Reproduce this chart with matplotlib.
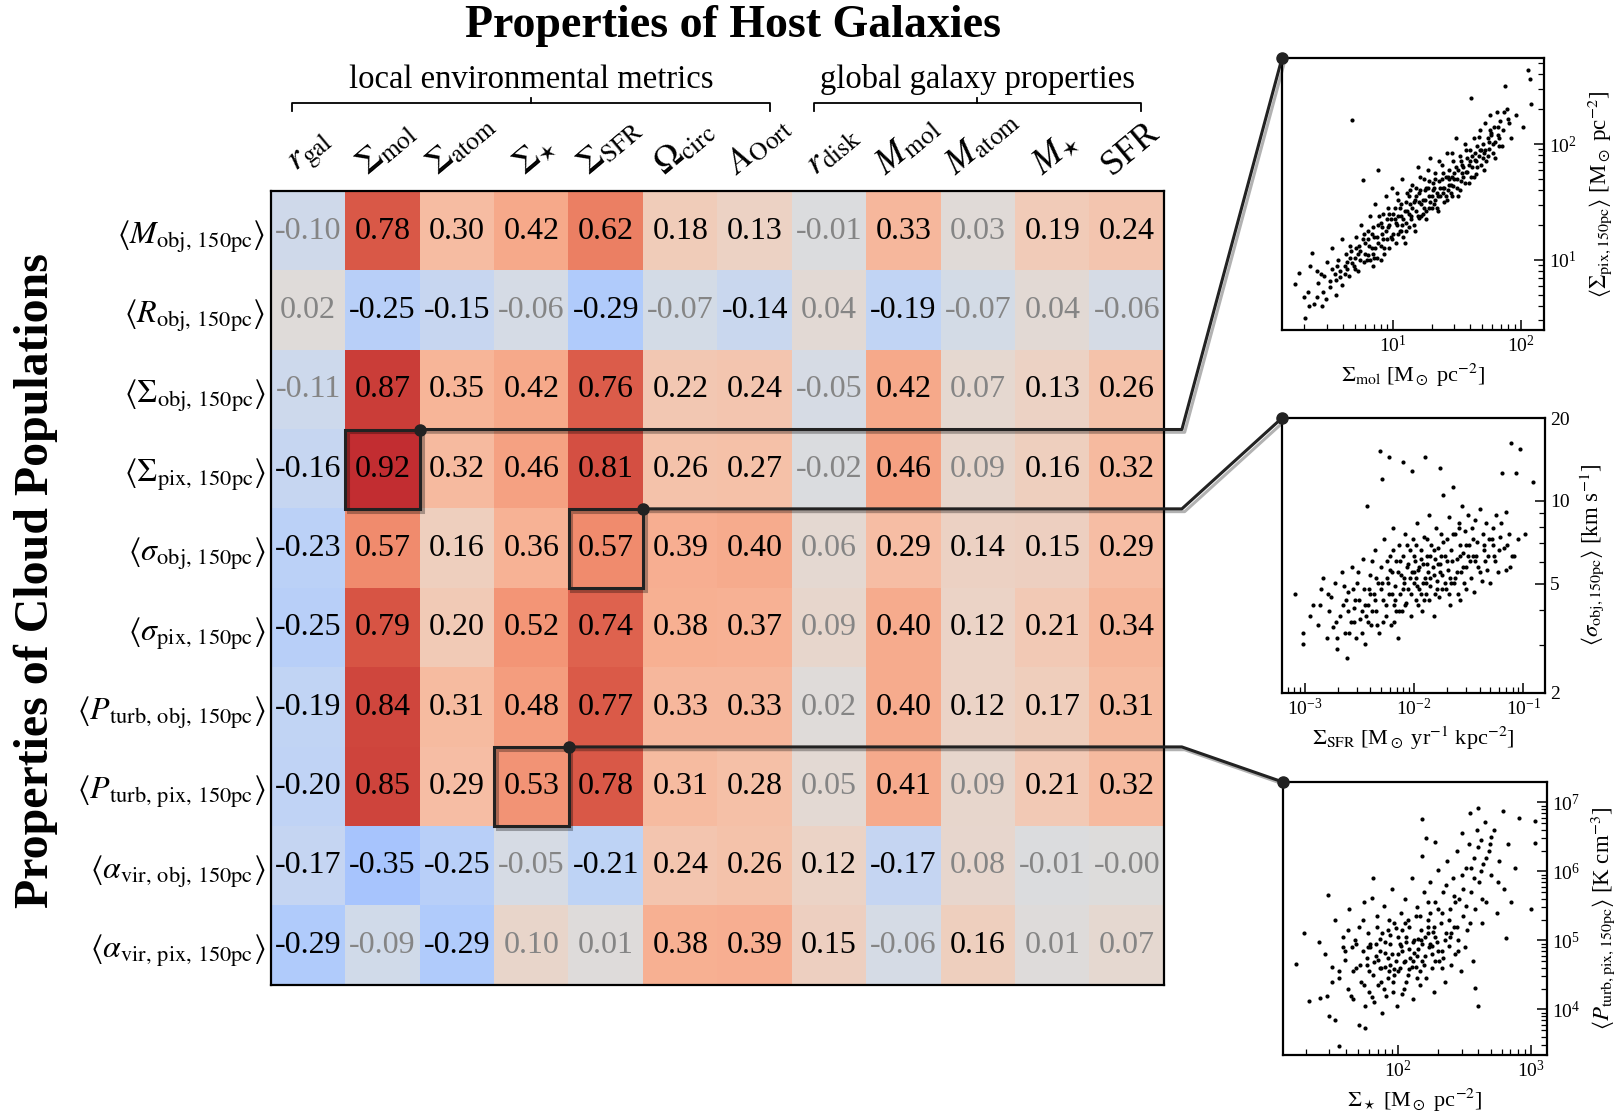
import numpy as np
import matplotlib
matplotlib.use("Agg")
import matplotlib.pyplot as plt
from matplotlib import patheffects as pe
from matplotlib.patches import Rectangle
from matplotlib.lines import Line2D
from matplotlib.ticker import LogLocator, NullFormatter, FixedLocator, FixedFormatter

plt.rcParams['font.family'] = ['Liberation Serif', 'DejaVu Serif']
plt.rcParams['mathtext.fontset'] = 'stix'

# column / row names
col_labels = [r"$r_{\rm gal}$", r"$\Sigma_{\rm mol}$", r"$\Sigma_{\rm atom}$", r"$\Sigma_{\star}$",
              r"$\Sigma_{\rm SFR}$", r"$\Omega_{\rm circ}$", r"$A_{\rm Oort}$", r"$r_{\rm disk}$",
              r"$M_{\rm mol}$", r"$M_{\rm atom}$", r"$M_{\star}$", "SFR"]
row_labels = [r"$\langle M_{\rm obj,\,150pc}\rangle$", r"$\langle R_{\rm obj,\,150pc}\rangle$",
              r"$\langle \Sigma_{\rm obj,\,150pc}\rangle$", r"$\langle \Sigma_{\rm pix,\,150pc}\rangle$",
              r"$\langle \sigma_{\rm obj,\,150pc}\rangle$", r"$\langle \sigma_{\rm pix,\,150pc}\rangle$",
              r"$\langle P_{\rm turb,\,obj,\,150pc}\rangle$", r"$\langle P_{\rm turb,\,pix,\,150pc}\rangle$",
              r"$\langle \alpha_{\rm vir,\,obj,\,150pc}\rangle$", r"$\langle \alpha_{\rm vir,\,pix,\,150pc}\rangle$"]

# correlation coefficients
corr = np.array([
    [-0.10, 0.78, 0.30, 0.42, 0.62, 0.18, 0.13, -0.01, 0.33, 0.03, 0.19, 0.24],
    [0.02, -0.25, -0.15, -0.06, -0.29, -0.07, -0.14, 0.04, -0.19, -0.07, 0.04, -0.06],
    [-0.11, 0.87, 0.35, 0.42, 0.76, 0.22, 0.24, -0.05, 0.42, 0.07, 0.13, 0.26],
    [-0.16, 0.92, 0.32, 0.46, 0.81, 0.26, 0.27, -0.02, 0.46, 0.09, 0.16, 0.32],
    [-0.23, 0.57, 0.16, 0.36, 0.57, 0.39, 0.40, 0.06, 0.29, 0.14, 0.15, 0.29],
    [-0.25, 0.79, 0.20, 0.52, 0.74, 0.38, 0.37, 0.09, 0.40, 0.12, 0.21, 0.34],
    [-0.19, 0.84, 0.31, 0.48, 0.77, 0.33, 0.33, 0.02, 0.40, 0.12, 0.17, 0.31],
    [-0.20, 0.85, 0.29, 0.53, 0.78, 0.31, 0.28, 0.05, 0.41, 0.09, 0.21, 0.32],
    [-0.17, -0.35, -0.25, -0.05, -0.21, 0.24, 0.26, 0.12, -0.17, 0.08, -0.01, -0.00],
    [-0.29, -0.09, -0.29, 0.10, 0.01, 0.38, 0.39, 0.15, -0.06, 0.16, 0.01, 0.07],
])
# 1 = significant (black text), 0 = not significant (grey text)
signif = np.array([
    [0, 1, 1, 1, 1, 1, 1, 0, 1, 0, 1, 1],
    [0, 1, 1, 0, 1, 0, 1, 0, 1, 0, 0, 0],
    [0, 1, 1, 1, 1, 1, 1, 0, 1, 0, 1, 1],
    [1, 1, 1, 1, 1, 1, 1, 0, 1, 0, 1, 1],
    [1, 1, 1, 1, 1, 1, 1, 0, 1, 1, 1, 1],
    [1, 1, 1, 1, 1, 1, 1, 0, 1, 1, 1, 1],
    [1, 1, 1, 1, 1, 1, 1, 0, 1, 1, 1, 1],
    [1, 1, 1, 1, 1, 1, 1, 0, 1, 0, 1, 1],
    [1, 1, 1, 0, 1, 1, 1, 1, 1, 0, 0, 0],
    [1, 0, 1, 0, 0, 1, 1, 1, 0, 1, 0, 0],
])

# highlighted cells (row, col) linked to the scatter panels
highlight = [(3, 1), (4, 4), (7, 3)]

# scatter samples, log10 values
s1_logx = [0.23, 0.26, 0.31, 0.38, 0.35, 0.36, 0.40, 0.41, 0.43, 0.45, 0.46, 0.48, 0.50, 0.52, 0.52, 0.55, 0.55, 0.57,
           0.58, 0.60, 0.60, 0.62, 0.63, 0.65, 0.66, 0.68, 0.68, 0.70, 0.71, 0.72, 0.74, 0.75, 0.76, 0.77, 0.78, 0.80,
           0.80, 0.82, 0.83, 0.84, 0.85, 0.86, 0.87, 0.88, 0.88, 0.90, 0.91, 0.92, 0.93, 0.94, 0.95, 0.96, 0.97, 0.98,
           0.99, 1.00, 1.01, 1.02, 1.03, 1.04, 1.05, 1.06, 1.07, 1.08, 1.09, 1.10, 1.11, 1.12, 1.13, 1.14, 1.15, 1.16,
           1.17, 1.18, 1.19, 1.20, 1.21, 1.22, 1.23, 1.24, 1.25, 1.26, 1.27, 1.28, 1.29, 1.30, 1.31, 1.32, 1.33, 1.34,
           1.35, 1.36, 1.37, 1.38, 1.39, 1.40, 1.41, 1.42, 1.43, 1.44, 1.45, 1.46, 1.47, 1.48, 1.49, 1.50, 1.51, 1.52,
           1.53, 1.54, 1.55, 1.56, 1.57, 1.58, 1.59, 1.60, 1.61, 1.62, 1.63, 1.64, 1.65, 1.66, 1.67, 1.68, 1.69, 1.70,
           1.71, 1.72, 1.73, 1.74, 1.75, 1.76, 1.77, 1.78, 1.79, 1.80, 1.81, 1.82, 1.83, 1.84, 1.86, 1.88, 1.89, 1.90,
           1.92, 1.96, 2.02, 2.06, 2.07, 2.08,
           0.92, 0.95, 0.98, 1.00, 1.02, 1.05, 1.08, 1.10, 1.12, 1.15, 1.18, 1.20, 1.22, 1.25, 1.28, 1.30, 1.32, 1.35,
           1.38, 1.40, 1.43, 1.45, 1.48, 1.50, 1.55, 1.58, 1.62, 1.65, 1.70, 1.75, 0.70, 0.74, 0.78, 0.82, 0.86, 0.90,
           0.64, 0.56, 0.66, 0.73, 0.80, 0.84, 0.87, 0.89, 0.96, 1.03, 1.06, 1.09, 1.13, 1.17, 1.21, 1.24, 1.27, 1.33,
           1.36, 1.41, 1.44, 1.46, 1.52, 1.57, 1.63, 1.67, 1.72, 1.78, 1.82, 1.85, 1.87, 1.91,
           0.30, 0.33, 0.34, 0.40, 0.44, 0.47,
           0.62, 0.67, 0.69, 0.72, 0.76, 0.79, 0.81, 0.83, 0.85, 0.88,
           0.90, 0.93, 0.94, 0.97, 0.99, 1.01, 1.04, 1.06, 1.07, 1.10,
           1.11, 1.14, 1.16, 1.19, 1.20, 1.23, 1.26, 1.28, 1.29, 1.31,
           1.34, 1.37, 1.39, 1.42, 1.44, 1.47, 1.49, 1.51, 1.53, 1.56,
           1.59, 1.61, 1.64, 1.66, 1.69, 1.71, 1.74, 1.77, 1.80, 1.83,
           0.58, 0.64, 0.71, 0.77, 0.84, 0.91, 0.97, 1.04, 1.12, 1.18,
           1.26, 1.33, 1.39, 1.46, 1.54, 1.60, 1.68, 1.76, 0.50, 0.54]
s1_logy = [0.79, 0.89, 0.50, 0.62, 0.95, 1.06, 0.90, 0.80, 0.88, 0.72, 0.86, 0.98, 0.77, 0.92, 1.10, 0.83, 0.70, 1.00,
           0.90, 0.78, 1.18, 0.95, 1.05, 0.86, 1.12, 0.97, 2.21, 1.02, 1.20, 0.90, 1.08, 1.30, 1.69, 0.98, 1.15, 1.04,
           1.25, 1.38, 1.10, 0.95, 1.20, 1.48, 1.02, 1.30, 1.78, 1.12, 1.22, 1.40, 1.05, 1.55, 1.18, 1.28, 1.10, 1.35,
           1.62, 1.22, 1.45, 1.15, 1.30, 1.52, 1.25, 1.38, 1.70, 1.20, 1.42, 1.32, 1.58, 1.28, 1.48, 1.38, 1.65, 1.30,
           1.52, 1.42, 1.80, 1.36, 1.60, 1.48, 1.40, 1.70, 1.52, 1.35, 1.62, 1.45, 1.88, 1.55, 1.66, 1.48, 1.75, 1.58,
           1.42, 1.68, 1.55, 1.82, 1.62, 1.50, 1.72, 1.92, 1.60, 1.78, 1.65, 1.55, 1.85, 1.70, 2.05, 1.62, 1.78, 1.90,
           1.68, 1.82, 1.72, 2.00, 1.76, 1.88, 1.66, 1.95, 2.40, 1.80, 2.05, 1.86, 1.74, 1.98, 1.90, 2.12, 1.82, 2.00,
           1.92, 2.18, 1.85, 2.05, 1.96, 2.25, 2.10, 1.92, 2.15, 2.02, 2.28, 2.08, 1.98, 2.20, 2.12, 2.50, 2.30, 2.22,
           2.05, 2.25, 2.15, 2.64, 2.56, 2.35,
           1.18, 1.35, 1.20, 1.40, 1.32, 1.45, 1.35, 1.50, 1.40, 1.45, 1.55, 1.50, 1.38, 1.60, 1.55, 1.45, 1.62, 1.55,
           1.70, 1.62, 1.72, 1.58, 1.75, 1.70, 1.80, 1.76, 1.90, 1.85, 1.88, 2.02, 0.92, 1.00, 1.05, 1.00, 1.10, 1.00,
           0.98, 0.95, 1.02, 1.12, 1.18, 1.28, 1.20, 1.38, 1.45, 1.58, 1.25, 1.15, 1.60, 1.25, 1.72, 1.45, 1.78, 1.52,
           1.85, 1.55, 1.65, 1.92, 1.60, 1.95, 1.72, 2.06, 1.95, 2.00, 2.15, 1.98, 2.28, 2.18,
           0.68, 0.72, 0.60, 0.68, 0.60, 0.66,
           0.88, 1.08, 0.95, 1.05, 1.18, 1.00, 1.12, 1.22, 1.02, 1.15,
           1.32, 1.10, 1.25, 1.30, 1.18, 1.35, 1.22, 1.48, 1.30, 1.25,
           1.42, 1.35, 1.50, 1.38, 1.58, 1.52, 1.42, 1.68, 1.50, 1.60,
           1.45, 1.62, 1.75, 1.52, 1.70, 1.64, 1.80, 1.55, 1.85, 1.66,
           1.82, 1.72, 1.92, 1.80, 1.95, 1.78, 1.90, 2.08, 1.88, 2.05,
           0.85, 0.92, 1.10, 1.22, 1.05, 1.28, 1.40, 1.38, 1.55, 1.62,
           1.62, 1.70, 1.58, 1.72, 1.75, 1.85, 1.95, 2.12, 0.82, 0.88]

s2_logx = [-3.09, -3.02, -3.02, -2.92, -2.88, -2.85, -2.83, -2.80, -2.78, -2.76, -2.74, -2.72, -2.70, -2.68, -2.66,
           -2.65, -2.63, -2.61, -2.60, -2.58, -2.57, -2.55, -2.53, -2.52, -2.50, -2.49, -2.47, -2.46, -2.45, -2.43,
           -2.42, -2.40, -2.39, -2.37, -2.36, -2.35, -2.33, -2.32, -2.31, -2.30, -2.29, -2.28, -2.27, -2.26, -2.25,
           -2.23, -2.23, -2.22, -2.21, -2.20, -2.19, -2.18, -2.17, -2.16, -2.15, -2.14, -2.13, -2.12, -2.11, -2.10,
           -2.10, -2.09, -2.08, -2.07, -2.06, -2.05, -2.04, -2.03, -2.02, -2.02, -2.01, -2.00, -1.99, -1.98, -1.97,
           -1.96, -1.95, -1.94, -1.93, -1.92, -1.91, -1.90, -1.90, -1.89, -1.88, -1.87, -1.86, -1.85, -1.84, -1.83,
           -1.82, -1.81, -1.80, -1.79, -1.78, -1.77, -1.76, -1.76, -1.75, -1.74, -1.73, -1.72, -1.71, -1.70, -1.69,
           -1.68, -1.67, -1.66, -1.65, -1.64, -1.63, -1.62, -1.61, -1.60, -1.59, -1.58, -1.57, -1.56, -1.55, -1.54,
           -1.53, -1.52, -1.51, -1.50, -1.48, -1.47, -1.46, -1.45, -1.44, -1.42, -1.41, -1.40, -1.38, -1.37, -1.36,
           -1.34, -1.33, -1.31, -1.30, -1.28, -1.27, -1.25, -1.23, -1.21, -1.19, -1.18, -1.16, -1.16, -1.13, -1.11,
           -1.10, -1.08, -1.07, -1.05, -1.03, -0.98, -0.91,
           -2.35, -2.30, -2.25, -2.20, -2.15, -2.10, -2.05, -2.00, -1.98, -1.95, -1.92, -1.88, -1.85, -1.82, -1.78,
           -1.75, -2.45, -2.40, -2.55, -2.60, -2.48, -2.38, -2.28, -2.18, -2.08, -1.98, -1.94, -1.86, -1.72, -1.68,
           -1.62, -1.58, -1.52,
           -2.95, -2.86, -2.79, -2.71, -2.64, -2.59, -2.54, -2.51, -2.44, -2.41,
           -2.38, -2.34, -2.29, -2.26, -2.22, -2.19, -2.16, -2.13, -2.09, -2.06,
           -2.03, -2.00, -1.97, -1.94, -1.91, -1.88, -1.85, -1.82, -1.79, -1.76,
           -1.73, -1.70, -1.67, -1.64, -1.61, -1.58, -1.55, -1.52, -1.49, -1.46,
           -1.43, -1.40, -1.36, -1.32, -1.29, -1.26, -1.22, -1.20, -1.15, -1.12,
           -2.62, -2.48, -2.36, -2.24, -2.14, -2.04, -1.96, -1.89, -1.81, -1.74,
           -1.66, -1.59, -1.51, -1.44, -1.35, -1.28, -2.70, -2.56, -2.42, -2.17]
s2_logy = [0.66, 0.52, 0.48, 0.62, 0.55, 0.68, 0.72, 0.50, 0.60, 0.65, 0.54, 0.70, 0.46, 0.58, 0.74,
           0.62, 0.52, 0.43, 0.67, 0.56, 0.76, 0.61, 0.50, 0.70, 0.64, 0.57, 0.79, 0.68, 0.48, 0.98,
           0.62, 0.73, 0.55, 0.66, 0.82, 0.60, 0.70, 0.52, 1.18, 0.76, 1.08, 0.64, 0.86, 0.58, 0.72,
           1.16, 0.66, 0.80, 0.55, 0.74, 0.90, 0.62, 0.69, 0.78, 0.50, 0.84, 0.66, 0.73, 0.60, 1.14,
           0.80, 0.70, 0.88, 0.63, 0.76, 0.68, 0.82, 0.58, 1.11, 0.74, 0.86, 0.70, 0.78, 0.64, 0.92,
           0.75, 0.68, 0.82, 0.60, 0.77, 0.87, 1.16, 0.72, 0.66, 0.80, 0.74, 0.95, 0.69, 0.84, 0.76,
           0.58, 0.79, 0.90, 0.71, 0.83, 0.65, 1.12, 0.77, 0.88, 0.73, 1.02, 0.80, 0.68, 0.86, 0.75,
           0.94, 0.62, 0.82, 0.78, 1.05, 0.70, 0.88, 0.79, 0.66, 0.92, 0.84, 0.74, 0.98, 0.81, 0.70,
           0.89, 0.76, 0.95, 0.84, 0.72, 0.90, 0.80, 0.67, 0.93, 0.85, 0.76, 0.97, 0.71, 0.88, 0.82,
           0.92, 0.75, 0.86, 0.70, 0.90, 0.80, 0.95, 0.74, 0.87, 1.10, 0.83, 0.96, 0.75, 0.88, 1.21,
           0.80, 0.80, 1.10, 0.86, 1.19, 0.88, 1.07,
           0.72, 0.68, 0.78, 0.66, 0.74, 0.68, 0.77, 0.80, 0.72, 0.76, 0.70, 0.77, 0.80, 0.73, 0.77,
           0.80, 0.62, 0.66, 0.56, 0.60, 0.52, 0.60, 0.56, 0.56, 0.62, 0.84, 0.66, 0.64, 0.70, 0.66,
           0.72, 0.64, 0.68,
           0.58, 0.62, 0.66, 0.56, 0.69, 0.52, 0.64, 0.74, 0.58, 0.68,
           0.78, 0.55, 0.70, 0.62, 0.75, 0.82, 0.60, 0.78, 0.72, 0.84,
           0.66, 0.74, 0.69, 0.79, 0.64, 0.86, 0.72, 0.82, 0.68, 0.74,
           0.85, 0.78, 0.72, 0.88, 0.74, 0.80, 0.76, 0.84, 0.78, 0.86,
           0.80, 0.74, 0.84, 0.80, 0.86, 0.78, 0.82, 0.92, 0.84, 0.76,
           0.64, 0.60, 0.64, 0.70, 0.60, 0.72, 0.62, 0.70, 0.66, 0.68,
           0.70, 0.90, 0.80, 0.78, 0.78, 0.84, 0.50, 0.68, 0.56, 0.64]

s3_logx = [1.23, 1.29, 1.33, 1.41, 1.46, 1.47, 1.48, 1.52, 1.55, 1.40, 1.45, 1.50, 1.52, 1.55, 1.58, 1.60, 1.62, 1.63,
           1.65, 1.66, 1.68, 1.70, 1.70, 1.72, 1.73, 1.74, 1.75, 1.75, 1.76, 1.77, 1.78, 1.79, 1.80, 1.81, 1.81, 1.82,
           1.83, 1.84, 1.85, 1.86, 1.87, 1.88, 1.89, 1.90, 1.91, 1.92, 1.93, 1.94, 1.95, 1.96, 1.97, 1.98, 1.99, 2.00,
           2.01, 2.02, 2.03, 2.04, 2.05, 2.06, 2.07, 2.08, 2.09, 2.10, 2.11, 2.12, 2.13, 2.14, 2.15, 2.16, 2.17, 2.18,
           2.18, 2.18, 2.19, 2.20, 2.21, 2.21, 2.22, 2.23, 2.24, 2.25, 2.26, 2.27, 2.28, 2.28, 2.29, 2.30, 2.31, 2.32,
           2.33, 2.34, 2.35, 2.36, 2.37, 2.38, 2.39, 2.40, 2.41, 2.42, 2.43, 2.44, 2.45, 2.46, 2.47, 2.48, 2.49, 2.50,
           2.51, 2.52, 2.53, 2.54, 2.55, 2.56, 2.57, 2.58, 2.58, 2.59, 2.60, 2.60, 2.61, 2.62, 2.63, 2.64, 2.65, 2.66,
           2.68, 2.70, 2.72, 2.74, 2.76, 2.79, 2.80, 2.81, 2.83, 2.85, 2.88, 2.91, 3.00, 3.03, 3.03,
           1.85, 1.90, 1.95, 2.00, 2.02, 2.05, 2.08, 2.10, 2.12, 2.15, 2.18, 2.20, 2.22, 2.25, 2.28, 2.30, 1.88, 1.93,
           1.98, 2.03, 2.07, 2.13, 2.24, 1.78, 1.82, 1.87, 1.92, 1.97, 2.06, 2.16, 2.35, 2.40, 2.44,
           1.55, 1.60, 1.64, 1.67, 1.71, 1.74, 1.77, 1.80, 1.83, 1.86,
           1.89, 1.92, 1.94, 1.97, 2.00, 2.03, 2.05, 2.08, 2.11, 2.14,
           2.16, 2.19, 2.22, 2.25, 2.27, 2.30, 2.33, 2.36, 2.39, 2.42,
           2.45, 2.48, 2.51, 2.54, 2.57, 2.60, 2.63, 2.66, 2.70, 2.75,
           1.62, 1.68, 1.73, 1.79, 1.84, 1.90, 1.96, 2.01, 2.06, 2.11,
           2.17, 2.22, 2.28, 2.33, 2.38, 2.43, 2.49, 2.55, 2.62, 2.69,
           1.50, 1.58, 1.66, 1.76, 1.86, 1.94, 2.04, 2.14, 2.24, 2.34]
s3_logy = [4.66, 5.10, 4.12, 4.17, 4.20, 5.66, 3.90, 3.85, 3.47, 4.98, 4.80, 4.62, 5.30, 4.45, 5.05, 4.72, 4.30, 5.45,
           4.90, 4.15, 4.60, 3.78, 5.20, 4.40, 4.85, 5.55, 3.73, 4.05, 4.65, 5.10, 4.25, 4.95, 5.62, 5.91, 4.50, 4.10,
           4.78, 5.35, 4.35, 5.02, 4.60, 3.95, 5.50, 4.82, 4.20, 5.15, 4.55, 4.95, 5.75, 4.40, 5.25, 4.70, 4.05, 5.05,
           4.60, 5.40, 4.85, 4.30, 5.60, 4.98, 4.50, 5.20, 4.75, 5.90, 4.15, 5.00, 4.62, 5.48, 4.88, 4.35, 5.15, 6.76,
           6.23, 4.70, 5.70, 5.05, 6.49, 4.45, 5.30, 4.90, 5.85, 4.60, 5.12, 4.25, 6.42, 5.55, 4.98, 6.02, 4.70, 5.25,
           4.85, 5.70, 4.40, 5.10, 6.15, 4.92, 5.45, 4.65, 5.90, 5.20, 4.80, 6.30, 5.00, 5.60, 4.55, 6.55, 5.35, 4.90,
           6.05, 5.15, 6.40, 6.85, 5.70, 4.70, 6.20, 4.31, 5.45, 6.60, 6.92, 4.05, 5.85, 6.45, 5.25, 6.10, 6.72, 5.55,
           6.30, 5.95, 6.60, 5.40, 6.15, 6.87, 5.75, 5.04, 6.40, 5.55, 6.05, 6.77, 5.45, 6.73, 6.41,
           4.72, 4.62, 4.80, 4.55, 4.92, 4.70, 4.88, 4.62, 4.82, 5.02, 4.95, 4.78, 5.10, 4.92, 5.05, 4.85, 5.10, 5.30,
           5.18, 5.15, 5.30, 5.35, 5.40, 4.55, 4.68, 4.40, 4.45, 4.58, 4.40, 4.55, 5.00, 5.10, 5.20,
           4.55, 4.85, 4.20, 5.00, 4.65, 4.35, 4.90, 4.18, 4.95, 4.60,
           4.30, 4.75, 5.08, 4.50, 4.80, 4.22, 5.25, 4.58, 4.98, 4.45,
           5.35, 4.65, 5.55, 4.80, 5.20, 5.45, 4.60, 5.80, 5.05, 5.65,
           4.85, 5.95, 5.50, 5.25, 5.90, 6.35, 5.60, 6.20, 6.50, 5.85,
           5.15, 4.95, 5.30, 4.90, 5.20, 4.98, 4.25, 4.95, 5.05, 4.70,
           5.00, 5.20, 4.70, 5.40, 5.30, 5.55, 5.75, 6.05, 6.00, 6.40,
           4.40, 4.90, 4.55, 4.75, 4.85, 4.65, 4.68, 4.78, 4.95, 4.75]

W, H = 1623, 1115
fig = plt.figure(figsize=(W / 100, H / 100), dpi=100)

# ---- heatmap ----
ax = fig.add_axes([0.1670, 0.1166, 0.5502, 0.7117])
ax.imshow(corr, cmap='coolwarm', vmin=-1, vmax=1, aspect='auto', interpolation='nearest')
for i in range(corr.shape[0]):
    for j in range(corr.shape[1]):
        ax.text(j, i, f"{corr[i, j]:.2f}", ha='center', va='center', fontsize=23,
                color='black' if signif[i, j] else '#858585')
ax.set_xticks([])
ax.set_yticks(range(len(row_labels)))
ax.set_yticklabels(row_labels, fontsize=23)
ax.tick_params(axis='y', length=0, pad=4)
for sp in ax.spines.values():
    sp.set_linewidth(1.6)
for j, lab in enumerate(col_labels):
    ax.text(j + 0.05, -0.62, lab, rotation=40, ha='center', va='bottom', fontsize=26)

shadow = [pe.SimpleLineShadow(offset=(2, -2), shadow_color='k', alpha=0.3), pe.Normal()]
for (r, c) in highlight:
    ax.add_patch(Rectangle((c - 0.5, r - 0.5), 1, 1, fill=False, ec='#222222', lw=2.2,
                           path_effects=shadow, zorder=5))

# group brackets
def bracket(x0, x1, y, text):
    xm = (x0 + x1) / 2
    ax.plot([x0, x0, x1, x1], [y + 0.09, y, y, y + 0.09], color='k', lw=1.3, clip_on=False,
            scalex=False, scaley=False)
    ax.plot([xm, xm], [y, y - 0.07], color='k', lw=1.3, clip_on=False, scalex=False, scaley=False)
    ax.text(xm, y - 0.11, text, ha='center', va='bottom', fontsize=23.5)

bracket(-0.22, 6.21, -1.61, "local environmental metrics")
bracket(6.79, 11.19, -1.61, "global galaxy properties")
ax.set_xlim(-0.5, 11.5)
ax.set_ylim(9.5, -0.5)

fig.text(0.4515, 0.977, "Properties of Host Galaxies", ha='center', va='center',
         fontsize=33, fontweight='bold')
fig.text(0.022, 0.479, "Properties of Cloud Populations", ha='center', va='center',
         rotation=90, fontsize=34.5, fontweight='bold')

# ---- scatter insets ----
def style(a):
    a.set_xscale('log')
    a.set_yscale('log')
    a.yaxis.tick_right()
    a.yaxis.set_label_position('right')
    a.tick_params(which='both', direction='in', top=False, left=False, right=True, bottom=True,
                  labelsize=14)
    a.tick_params(which='major', length=7, width=1.1)
    a.tick_params(which='minor', length=4, width=0.9)
    for sp in a.spines.values():
        sp.set_linewidth(1.6)

a1 = fig.add_axes([0.7899, 0.7040, 0.1614, 0.2439])
a1.scatter(10 ** np.array(s1_logx), 10 ** np.array(s1_logy), s=9, c='k', lw=0)
style(a1)
a1.set_xlim(1.34, 152)
a1.set_ylim(2.48, 553)
a1.set_xlabel(r"$\Sigma_{\rm mol}$ [M$_\odot$ pc$^{-2}$]", fontsize=16, labelpad=4)
a1.set_ylabel(r"$\langle\Sigma_{\rm pix,150pc}\rangle$ [M$_\odot$ pc$^{-2}$]", fontsize=16.5, labelpad=6)

a2 = fig.add_axes([0.7899, 0.3785, 0.1620, 0.2466])
a2.scatter(10 ** np.array(s2_logx), 10 ** np.array(s2_logy), s=9, c='k', lw=0)
style(a2)
a2.set_xlim(6.2e-4, 0.158)
a2.set_ylim(2, 20)
a2.yaxis.set_major_locator(FixedLocator([2, 5, 10, 20]))
a2.yaxis.set_major_formatter(FixedFormatter(['2', '5', '10', '20']))
a2.yaxis.set_minor_locator(LogLocator(base=10, subs=np.arange(2, 10)))
a2.yaxis.set_minor_formatter(NullFormatter())
a2.set_xlabel(r"$\Sigma_{\rm SFR}$ [M$_\odot$ yr$^{-1}$ kpc$^{-2}$]", fontsize=16, labelpad=4)
a2.set_ylabel(r"$\langle\sigma_{\rm obj,150pc}\rangle$ [km s$^{-1}$]", fontsize=16.5, labelpad=6)

a3 = fig.add_axes([0.7905, 0.0538, 0.1627, 0.2448])
a3.scatter(10 ** np.array(s3_logx), 10 ** np.array(s3_logy), s=9, c='k', lw=0)
style(a3)
a3.set_xlim(13.5, 1321)
a3.set_ylim(2180, 1.97e7)
a3.set_xlabel(r"$\Sigma_\star$ [M$_\odot$ pc$^{-2}$]", fontsize=16, labelpad=4)
a3.set_ylabel(r"$\langle P_{\rm turb,pix,150pc}\rangle$ [K cm$^{-3}$]", fontsize=16.5, labelpad=6)

# ---- connector lines from highlighted cells to insets ----
to_fig = fig.transFigure.inverted()
for (r, c), a in zip(highlight, [a1, a2, a3]):
    p0 = to_fig.transform(ax.transData.transform((c + 0.5, r - 0.5)))
    pk = to_fig.transform(ax.transData.transform((11.74, r - 0.5)))
    p1 = to_fig.transform(a.transAxes.transform((0, 1)))
    ln = Line2D([p0[0], pk[0], p1[0]], [p0[1], pk[1], p1[1]], transform=fig.transFigure,
                color='#222222', lw=2.2, path_effects=shadow, zorder=10)
    fig.add_artist(ln)
    dots = Line2D([p0[0], p1[0]], [p0[1], p1[1]], transform=fig.transFigure, ls='none',
                  marker='o', ms=8, color='#222222', zorder=11)
    fig.add_artist(dots)

fig.savefig("out.png", dpi=100)
